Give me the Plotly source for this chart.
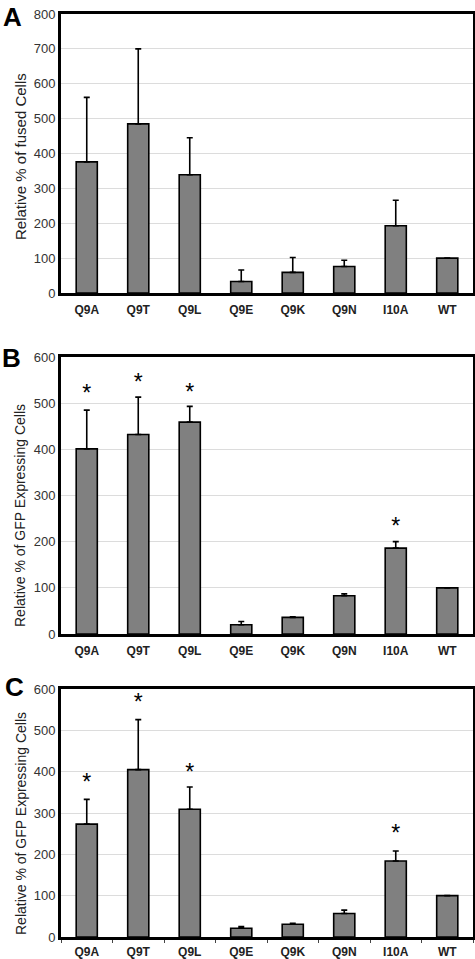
import plotly.graph_objects as go
from plotly.subplots import make_subplots

categories = ["Q9A", "Q9T", "Q9L", "Q9E", "Q9K", "Q9N", "I10A", "WT"]

fused_vals = [376, 485, 339, 33, 59, 76, 193, 100]
fused_err = [185, 215, 106, 33, 43, 18, 73, 0]

gfp_b_vals = [401, 432, 459, 20, 36, 83, 186, 100]
gfp_b_err = [84, 81, 34, 7, 1, 4, 14, 0]
gfp_b_star = [518, 541, 520, None, None, None, 230, None]

gfp_c_vals = [273, 405, 309, 21, 31, 57, 184, 100]
gfp_c_err = [60, 121, 54, 4, 2, 8, 24, 0]
gfp_c_star = [369, 564, 393, None, None, None, 247, None]

panel_letters = ["A", "B", "C"]
y_titles = ["Relative % of fused Cells",
            "Relative % of GFP Expressing Cells",
            "Relative % of GFP Expressing Cells"]
y_ranges = [[0, 800], [0, 600], [0, 600]]

FONT = "Liberation Sans, Arial, sans-serif"

W, H = 475, 959
ML, MR, MT, MB = 61, 2, 14, 22
PH = H - MT - MB
PW = W - ML - MR


def py(ypx):
    return (H - MB - ypx) / PH


def px(xpx):
    return (xpx - ML) / PW


fig = make_subplots(rows=3, cols=1, shared_xaxes=False)

panels = [(fused_vals, fused_err, None),
          (gfp_b_vals, gfp_b_err, gfp_b_star),
          (gfp_c_vals, gfp_c_err, gfp_c_star)]

for i, (vals, err, stars) in enumerate(panels, start=1):
    fig.add_trace(go.Bar(
        x=categories, y=vals, width=0.41,
        marker=dict(color="#808080", line=dict(color="black", width=1.6)),
        error_y=dict(type="data", symmetric=False, array=err,
                     arrayminus=[0] * len(err), color="black",
                     thickness=1.6, width=3),
        showlegend=False, hoverinfo="skip"), row=i, col=1)
    if stars:
        sx = [c for c, s in zip(categories, stars) if s is not None]
        sy = [s for s in stars if s is not None]
        fig.add_trace(go.Scatter(
            x=sx, y=sy, mode="text", text=["*"] * len(sx),
            textposition="middle center",
            textfont=dict(family=FONT, size=23, color="black"),
            showlegend=False, hoverinfo="skip"), row=i, col=1)

# plot areas in pixels (top, bottom)
plot_px = [(14, 293), (357, 634), (689, 937)]
domains = [[py(b), py(t)] for t, b in plot_px]
for i in range(3):
    n = "" if i == 0 else str(i + 1)
    fig.layout["yaxis" + n].update(
        domain=domains[i], range=y_ranges[i], dtick=100,
        showgrid=True, gridcolor="#dcdcdc", gridwidth=1,
        showline=True, linecolor="black", linewidth=3, mirror=True,
        ticks="", tickfont=dict(family=FONT, size=13, color="#333"),
        automargin=False, zeroline=False)
    fig.layout["xaxis" + n].update(
        domain=[0, 1],
        showline=True, linecolor="black", linewidth=3, mirror=True,
        ticks="outside" if i == 2 else "", ticklen=3, tickcolor="#444",
        tickson="boundaries", automargin=False,
        ticklabelstandoff=2 if i == 2 else 4,
        tickfont=dict(family=FONT, size=12, color="#222", weight="bold"),
        showgrid=False)

# y-axis titles (centres in pixels)
title_centres = [(20, 157, 15), (20, 516, 14), (21, 824, 14)]
for txt, (cx, cy, fs) in zip(y_titles, title_centres):
    fig.add_annotation(text=txt, xref="paper", yref="paper",
                       x=px(cx), y=py(cy), xanchor="center", yanchor="middle",
                       textangle=-90, showarrow=False,
                       font=dict(family=FONT, size=fs, color="#222"))

letter_pos = [(12.5, 17.5), (11, 357.5), (14, 686.5)]
for letter, (lx, ly) in zip(panel_letters, letter_pos):
    fig.add_annotation(text="<b>" + letter + "</b>", xref="paper", yref="paper",
                       x=px(lx), y=py(ly), xanchor="center", yanchor="middle",
                       showarrow=False,
                       font=dict(family=FONT, size=26, color="black"))

fig.update_layout(
    width=W, height=H,
    margin=dict(l=ML, r=MR, t=MT, b=MB, autoexpand=False),
    plot_bgcolor="white", paper_bgcolor="white",
    bargap=0.5,
)

fig.write_html("out.html",
               config={"displayModeBar": False},
               post_script="document.body.style.margin='0';"
                           "document.body.style.overflow='hidden';")
